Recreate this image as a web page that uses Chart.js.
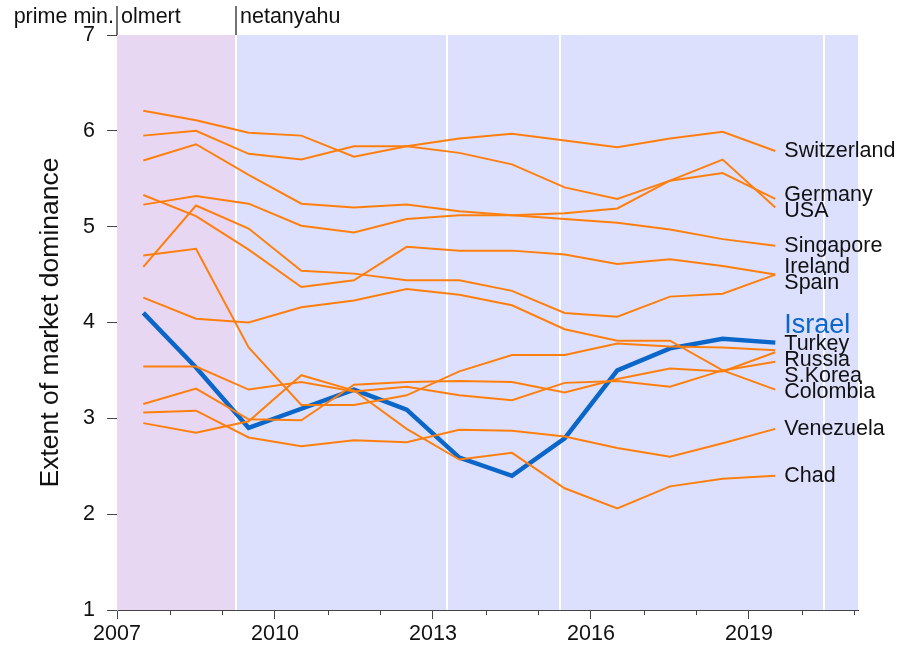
<!DOCTYPE html>
<html>
<head>
<meta charset="utf-8">
<script src="https://cdn.jsdelivr.net/npm/chart.js@4.4.0/dist/chart.umd.min.js"></script>
<style>
  html, body { margin: 0; padding: 0; background: #fff; }
</style>
</head>
<body>
<canvas id="chart" width="898" height="646"></canvas>
<script>
// survey years (mid-year points)
const years = [2007.5, 2008.5, 2009.5, 2010.5, 2011.5, 2012.5, 2013.5, 2014.5, 2015.5, 2016.5, 2017.5, 2018.5, 2019.5];

const switzerland = [6.21, 6.11, 5.98, 5.95, 5.73, 5.84, 5.92, 5.97, 5.90, 5.83, 5.92, 5.99, 5.79];
const germany     = [5.23, 5.32, 5.24, 5.01, 4.94, 5.08, 5.12, 5.12, 5.14, 5.19, 5.48, 5.56, 5.29];
const usa         = [5.95, 6.00, 5.76, 5.70, 5.84, 5.84, 5.77, 5.65, 5.41, 5.29, 5.48, 5.70, 5.20];
const singapore   = [5.69, 5.86, 5.54, 5.24, 5.20, 5.23, 5.16, 5.12, 5.08, 5.04, 4.97, 4.87, 4.80];
const ireland     = [5.33, 5.11, 4.76, 4.37, 4.44, 4.79, 4.75, 4.75, 4.71, 4.61, 4.66, 4.59, 4.50];
const spain       = [4.58, 5.22, 4.98, 4.54, 4.51, 4.44, 4.44, 4.33, 4.10, 4.06, 4.27, 4.30, 4.50];
const turkey      = [4.70, 4.77, 3.74, 3.14, 3.14, 3.24, 3.49, 3.66, 3.66, 3.78, 3.75, 3.74, 3.71];
const russia      = [3.15, 3.31, 2.99, 2.98, 3.35, 3.38, 3.39, 3.38, 3.27, 3.41, 3.52, 3.49, 3.69];
const skorea      = [3.54, 3.54, 3.30, 3.38, 3.28, 3.33, 3.24, 3.19, 3.37, 3.39, 3.33, 3.50, 3.59];
const colombia    = [4.26, 4.04, 4.00, 4.16, 4.23, 4.35, 4.29, 4.18, 3.93, 3.81, 3.81, 3.50, 3.30];
const venezuela   = [3.06, 3.08, 2.80, 2.71, 2.77, 2.75, 2.88, 2.87, 2.81, 2.69, 2.60, 2.74, 2.89];
const chad        = [2.95, 2.85, 2.97, 3.45, 3.29, 2.89, 2.57, 2.64, 2.27, 2.06, 2.29, 2.37, 2.40];
const israel      = [4.10, 3.53, 2.90, 3.10, 3.30, 3.09, 2.59, 2.40, 2.79, 3.50, 3.73, 3.83, 3.79];

const countries = ['Switzerland', 'Germany', 'USA', 'Singapore', 'Ireland', 'Spain',
                   'Turkey', 'Russia', 'S.Korea', 'Colombia', 'Venezuela', 'Chad'];
const countryValues = [switzerland, germany, usa, singapore, ireland, spain,
                       turkey, russia, skorea, colombia, venezuela, chad];

// prime ministers and new governments
const pmNames = ['olmert', 'netanyahu'];
const pmStarts = [2007, 2009.26];
const governments = [2009.26, 2013.26, 2015.41, 2020.43];

const yTicks = [1, 2, 3, 4, 5, 6, 7];

const ORANGE = '#ff7f0e';
const BLUE = '#0a66c8';
const FONT = '"Liberation Sans", Arial, sans-serif';
const pmColors = ['#e8d7f2', '#dde0fc'];

const datasets = countries.map((name, i) => ({
  label: name,
  data: years.map((x, j) => ({ x: x, y: countryValues[i][j] })),
  borderColor: ORANGE,
  borderWidth: 2,
  pointRadius: 0,
  tension: 0
}));
datasets.push({
  label: 'Israel',
  data: years.map((x, j) => ({ x: x, y: israel[j] })),
  borderColor: BLUE,
  borderWidth: 4.5,
  pointRadius: 0,
  tension: 0
});

// shaded terms + white lines for each new government
const termShading = {
  id: 'termShading',
  beforeDatasetsDraw(chart) {
    const { ctx, chartArea: a, scales: { x } } = chart;
    ctx.save();
    pmStarts.forEach((s, i) => {
      const x0 = x.getPixelForValue(s);
      const x1 = i + 1 < pmStarts.length ? x.getPixelForValue(pmStarts[i + 1]) : a.right;
      ctx.fillStyle = pmColors[i];
      ctx.fillRect(x0, a.top, x1 - x0, a.bottom - a.top);
    });
    ctx.strokeStyle = '#fff';
    ctx.lineWidth = 2;
    governments.forEach(g => {
      const px = Math.round(x.getPixelForValue(g));
      ctx.beginPath();
      ctx.moveTo(px, a.top);
      ctx.lineTo(px, a.bottom);
      ctx.stroke();
    });
    ctx.restore();
  }
};

// push end labels apart so they do not overlap
function spreadLabels(items) {
  items.sort((a, b) => a.y - b.y);
  let clusters = items.map(it => [it]);
  const place = c => {
    const offs = [0];
    for (let k = 1; k < c.length; k++) offs.push(offs[k - 1] + c[k - 1].h + c[k].h);
    let s = 0;
    c.forEach((it, k) => { s += it.y - offs[k]; });
    s /= c.length;
    c.forEach((it, k) => { it.py = s + offs[k]; });
  };
  clusters.forEach(place);
  let merged = true;
  while (merged) {
    merged = false;
    for (let i = 0; i < clusters.length - 1; i++) {
      const a = clusters[i], b = clusters[i + 1];
      const last = a[a.length - 1], first = b[0];
      if (last.py + last.h > first.py - first.h) {
        clusters.splice(i, 2, a.concat(b));
        place(clusters[i]);
        merged = true;
        break;
      }
    }
  }
  return items;
}

const extras = {
  id: 'extras',
  afterDraw(chart) {
    const { ctx, chartArea: a, scales: { x, y } } = chart;
    ctx.save();

    // minor year ticks
    ctx.strokeStyle = '#444';
    ctx.lineWidth = 1;
    for (let yr = Math.ceil(x.min); yr <= x.max; yr++) {
      if (yr % 3 === 0) continue;
      const px = Math.round(x.getPixelForValue(yr)) + 0.5;
      ctx.beginPath();
      ctx.moveTo(px, a.bottom);
      ctx.lineTo(px, a.bottom + 5);
      ctx.stroke();
    }

    // prime minister strip
    ctx.font = '21.5px ' + FONT;
    ctx.fillStyle = '#111';
    ctx.textBaseline = 'alphabetic';
    ctx.textAlign = 'right';
    ctx.fillText('prime min.', x.getPixelForValue(pmStarts[0]) - 3, 23);
    ctx.textAlign = 'left';
    ctx.strokeStyle = '#444';
    ctx.lineWidth = 1.5;
    pmStarts.forEach((s, i) => {
      const px = Math.round(x.getPixelForValue(s));
      ctx.beginPath();
      ctx.moveTo(px, 6);
      ctx.lineTo(px, a.top);
      ctx.stroke();
      ctx.fillText(pmNames[i], px + 4, 23);
    });

    // end-of-line labels
    const last = years.length - 1;
    const xEnd = x.getPixelForValue(years[last]) + 9;
    const items = countries.map((name, i) => ({
      name: name, y: y.getPixelForValue(countryValues[i][last]), h: 8, color: '#111', size: 21.5
    }));
    items.push({ name: 'Israel', y: y.getPixelForValue(israel[last]), h: 10, color: BLUE, size: 27 });
    spreadLabels(items);
    ctx.textBaseline = 'middle';
    ctx.textAlign = 'left';
    items.forEach(it => {
      ctx.font = it.size + 'px ' + FONT;
      ctx.fillStyle = it.color;
      ctx.fillText(it.name, xEnd, it.py);
    });
    ctx.restore();
  }
};

new Chart(document.getElementById('chart').getContext('2d'), {
  type: 'line',
  data: { datasets: datasets },
  options: {
    responsive: false,
    animation: false,
    devicePixelRatio: 1,
    layout: { padding: { top: 35, right: 40, left: 0, bottom: 0 } },
    plugins: { legend: { display: false }, tooltip: { enabled: false } },
    scales: {
      x: {
        type: 'linear',
        min: 2007,
        max: 2021.07,
        afterFit: s => { s.height = 36; },
        border: { color: '#444', width: 1 },
        grid: {
          drawOnChartArea: false,
          tickLength: 9,
          tickColor: c => (c.tick && c.tick.value % 3 === 0) ? '#444' : 'rgba(0,0,0,0)'
        },
        ticks: {
          stepSize: 1,
          includeBounds: false,
          autoSkip: false,
          maxRotation: 0,
          padding: 2,
          color: '#111',
          font: { family: FONT, size: 21.5 },
          callback: v => (v % 3 === 0 ? String(v) : '')
        }
      },
      y: {
        min: 1,
        max: 7,
        afterFit: s => { s.width = 117; },
        afterBuildTicks: s => { s.ticks = yTicks.map(v => ({ value: v })); },
        border: { color: '#bbb', width: 1 },
        grid: { drawOnChartArea: false, tickLength: 10, tickColor: '#444' },
        ticks: {
          padding: 12,
          color: '#111',
          font: { family: FONT, size: 21.5 }
        },
        title: {
          display: true,
          text: 'Extent of market dominance',
          color: '#111',
          font: { family: FONT, size: 26.5 },
          padding: { top: 35 }
        }
      }
    }
  },
  plugins: [termShading, extras]
});
</script>
</body>
</html>
